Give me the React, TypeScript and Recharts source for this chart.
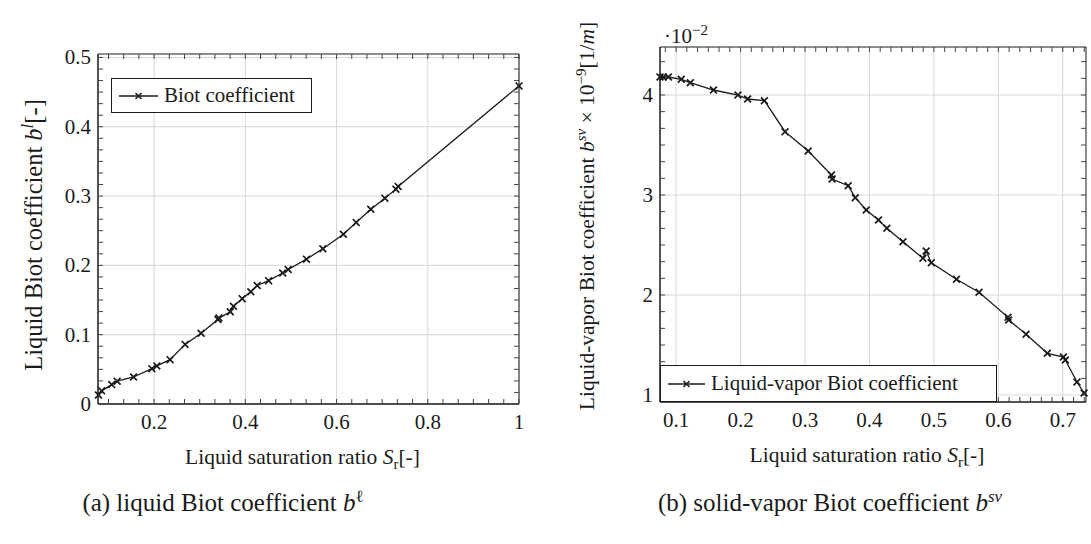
import React from "react";
import { LineChart, Line, XAxis, YAxis, CartesianGrid, Legend } from "recharts";

const FONT = '"Liberation Serif", "Times New Roman", serif';
const INK = "#1a1a1a";
const GRID = "#d6d6d6";
const TICK = "#444";

// (a) liquid Biot coefficient
const satA = [0.078, 0.085, 0.107, 0.119, 0.155, 0.195, 0.206, 0.235, 0.268, 0.303, 0.34, 0.342, 0.367, 0.374, 0.393, 0.412, 0.426, 0.451, 0.482, 0.494, 0.534, 0.57, 0.615, 0.643, 0.675, 0.706, 0.73, 0.735, 1.0];
const biotA = [0.013, 0.019, 0.028, 0.033, 0.039, 0.051, 0.055, 0.064, 0.086, 0.102, 0.122, 0.124, 0.133, 0.141, 0.152, 0.162, 0.171, 0.178, 0.189, 0.194, 0.209, 0.224, 0.245, 0.262, 0.281, 0.297, 0.31, 0.314, 0.459];
const xMajorA = [0.2, 0.4, 0.6, 0.8, 1];
const xLabelsA = ["0.2", "0.4", "0.6", "0.8", "1"];
const yMajorA = [0, 0.1, 0.2, 0.3, 0.4, 0.5];
const yLabelsA = ["0", "0.1", "0.2", "0.3", "0.4", "0.5"];
const xDomainA: [number, number] = [0.077, 1];
const yDomainA: [number, number] = [0, 0.505];

// (b) liquid-vapor Biot coefficient, in units of 1e-2
const satB = [0.075, 0.08, 0.088, 0.108, 0.122, 0.158, 0.196, 0.211, 0.237, 0.269, 0.305, 0.341, 0.342, 0.367, 0.378, 0.395, 0.414, 0.427, 0.452, 0.483, 0.488, 0.496, 0.535, 0.57, 0.615, 0.616, 0.643, 0.676, 0.701, 0.704, 0.722, 0.733];
const biotB = [4.18, 4.18, 4.18, 4.157, 4.123, 4.05, 4.0, 3.96, 3.943, 3.633, 3.44, 3.2, 3.16, 3.093, 2.973, 2.85, 2.75, 2.667, 2.533, 2.367, 2.44, 2.323, 2.157, 2.027, 1.777, 1.75, 1.607, 1.417, 1.38, 1.35, 1.13, 1.02];
const xMajorB = [0.1, 0.2, 0.3, 0.4, 0.5, 0.6, 0.7];
const xLabelsB = ["0.1", "0.2", "0.3", "0.4", "0.5", "0.6", "0.7"];
const yMajorB = [1, 2, 3, 4];
const yLabelsB = ["1", "2", "3", "4"];
const xDomainB: [number, number] = [0.075, 0.736];
const yDomainB: [number, number] = [0.93, 4.48];

// 5 minor ticks between majors, like pgfplots here
function withMinor(major: number[], domain: [number, number]) {
  const step = (major[1] - major[0]) / 6;
  const first = Math.ceil((domain[0] - major[0]) / step - 1e-6);
  const last = Math.floor((domain[1] - major[0]) / step + 1e-6);
  const out: number[] = [];
  for (let i = first; i <= last; i++) out.push(+(major[0] + i * step).toFixed(6));
  return out;
}

type Dir = "up" | "down" | "left" | "right";

// short inward tick mark at a point on the frame
const tickMark = (dir: Dir) => (props: any) => {
  const { cx, cy, index } = props;
  if (cx == null || cy == null || Number.isNaN(cy)) return <g key={index} />;
  const len = 5;
  const d =
    dir === "up" ? `M${cx},${cy}V${cy - len}` :
    dir === "down" ? `M${cx},${cy}V${cy + len}` :
    dir === "right" ? `M${cx},${cy}H${cx + len}` :
    `M${cx},${cy}H${cx - len}`;
  return <path key={index} d={d} stroke={TICK} strokeWidth={1} fill="none" />;
};

function makeLabel(side: "bottom" | "left", labels: Record<string, string>) {
  return (props: any) => {
    const { x, y, payload } = props;
    const lab = labels[String(payload.value)] ?? "";
    if (side === "bottom")
      return (
        <text x={x} y={y + 25} textAnchor="middle" fontSize={21} fontFamily={FONT} fill={INK}>
          {lab}
        </text>
      );
    return (
      <text x={x - 7} y={y + 7} textAnchor="end" fontSize={21} fontFamily={FONT} fill={INK}>
        {lab}
      </text>
    );
  };
}

const cross = (p: any) => {
  const { cx, cy, index } = p;
  if (cx == null || cy == null || Number.isNaN(cy)) return <g key={index} />;
  const r = 3.4;
  return (
    <path
      key={index}
      d={`M${cx - r},${cy - r}L${cx + r},${cy + r}M${cx - r},${cy + r}L${cx + r},${cy - r}`}
      stroke={INK}
      strokeWidth={1.7}
      fill="none"
    />
  );
};

function LegendBox({ text, width, height, lineW }: { text: string; width: number; height: number; lineW: number }) {
  return (
    <div
      style={{
        width,
        height,
        boxSizing: "border-box",
        border: `1px solid ${INK}`,
        background: "#fff",
        display: "flex",
        alignItems: "center",
        paddingLeft: 7,
        fontFamily: FONT,
        fontSize: 21,
        color: INK,
        whiteSpace: "nowrap",
      }}
    >
      <svg width={lineW} height={12} style={{ marginRight: 6 }}>
        <line x1={0} x2={lineW} y1={6} y2={6} stroke={INK} strokeWidth={1.3} />
        <path d={`M${lineW / 2 - 3},3L${lineW / 2 + 3},9M${lineW / 2 - 3},9L${lineW / 2 + 3},3`} stroke={INK} strokeWidth={1.5} />
      </svg>
      {text}
    </div>
  );
}

type PanelProps = {
  sat: number[];
  biot: number[];
  xMajor: number[];
  xLabels: string[];
  yMajor: number[];
  yLabels: string[];
  xDomain: [number, number];
  yDomain: [number, number];
  width: number;
  height: number;
  margin: { top: number; right: number; left: number; bottom: number };
  yAxisWidth: number;
  xAxisHeight: number;
  yTitle: (vb: any) => React.ReactNode;
  legend: { text: string; left: number; top: number; width: number; height: number; lineW: number };
};

function Panel(p: PanelProps) {
  const xTicks = withMinor(p.xMajor, p.xDomain);
  const yTicks = withMinor(p.yMajor, p.yDomain);
  const [x0, x1] = p.xDomain;
  const [y0, y1] = p.yDomain;
  // one table: the series first, then frame corners and tick anchors under their own keys
  const data: Record<string, number>[] = [
    ...p.sat.map((s, i) => ({ s, b: p.biot[i] })),
    { s: x0, fr: y0 },
    { s: x0, fr: y1 },
    { s: x1, fr: y1 },
    { s: x1, fr: y0 },
    { s: x0, fr: y0 },
    ...xTicks.map((v) => ({ s: v, tb: y0 })),
    ...xTicks.map((v) => ({ s: v, tt: y1 })),
    ...yTicks.map((v) => ({ s: x0, tl: v })),
    ...yTicks.map((v) => ({ s: x1, tr: v })),
  ];
  const xLab: Record<string, string> = {};
  p.xMajor.forEach((v, i) => (xLab[String(v)] = p.xLabels[i]));
  const yLab: Record<string, string> = {};
  p.yMajor.forEach((v, i) => (yLab[String(v)] = p.yLabels[i]));
  const hidden = { stroke: "none", activeDot: false, legendType: "none" as const, isAnimationActive: false, connectNulls: false };
  return (
    <LineChart width={p.width} height={p.height} data={data} margin={p.margin}>
      <CartesianGrid stroke={GRID} strokeWidth={1} horizontalValues={p.yMajor} verticalValues={p.xMajor} />
      <XAxis
        type="number"
        dataKey="s"
        domain={p.xDomain}
        ticks={p.xMajor}
        interval={0}
        tickSize={0}
        tickMargin={0}
        tickLine={false}
        axisLine={{ stroke: INK }}
        height={p.xAxisHeight}
        tick={makeLabel("bottom", xLab)}
        label={{
          content: (lp: any) => {
            const vb = lp.viewBox;
            return (
              <text x={vb.x + vb.width / 2 - 6} y={vb.y + 60} textAnchor="middle" fontSize={21.5} fontFamily={FONT} fill={INK}>
                Liquid saturation ratio <tspan fontStyle="italic">S</tspan>
                <tspan fontSize={15} dy={5}>r</tspan>
                <tspan dy={-5}>[-]</tspan>
              </text>
            );
          },
        }}
      />
      <YAxis
        type="number"
        domain={p.yDomain}
        ticks={p.yMajor}
        interval={0}
        tickSize={0}
        tickMargin={0}
        tickLine={false}
        axisLine={{ stroke: INK }}
        width={p.yAxisWidth}
        tick={makeLabel("left", yLab)}
        label={{ content: (lp: any) => p.yTitle(lp.viewBox) }}
      />
      <Line dataKey="fr" stroke={INK} strokeWidth={1} dot={false} activeDot={false} legendType="none" isAnimationActive={false} connectNulls />
      <Line dataKey="tb" {...hidden} dot={tickMark("up")} />
      <Line dataKey="tt" {...hidden} dot={tickMark("down")} />
      <Line dataKey="tl" {...hidden} dot={tickMark("right")} />
      <Line dataKey="tr" {...hidden} dot={tickMark("left")} />
      <Legend
        verticalAlign="middle"
        align="center"
        layout="horizontal"
        wrapperStyle={{ left: p.legend.left, top: p.legend.top, width: p.legend.width, height: p.legend.height }}
        content={() => <LegendBox text={p.legend.text} width={p.legend.width} height={p.legend.height} lineW={p.legend.lineW} />}
      />
      <Line
        dataKey="b"
        stroke={INK}
        strokeWidth={1.3}
        dot={cross}
        activeDot={false}
        connectNulls
        isAnimationActive={false}
      />
    </LineChart>
  );
}

const yTitleA = (vb: any) => {
  const bx = 42;
  const cy = vb.y + vb.height / 2 + 6;
  return (
    <text x={bx} y={cy} transform={`rotate(-90 ${bx} ${cy})`} textAnchor="middle" fontSize={24.5} fontFamily={FONT} fill={INK}>
      Liquid Biot coefficient <tspan fontStyle="italic">b</tspan>
      <tspan fontSize={17} fontStyle="italic" dy={-9}>l</tspan>
      <tspan dy={9}>[-]</tspan>
    </text>
  );
};

const yTitleB = (vb: any) => {
  const bx = 54;
  const cy = 216;
  return (
    <text x={bx} y={cy} transform={`rotate(-90 ${bx} ${cy})`} textAnchor="middle" fontSize={21.5} fontFamily={FONT} fill={INK}>
      Liquid-vapor Biot coefficient <tspan fontStyle="italic">b</tspan>
      <tspan fontSize={15} fontStyle="italic" dy={-8}>sv</tspan>
      <tspan dy={8}> × 10</tspan>
      <tspan fontSize={15} dy={-8}>−9</tspan>
      <tspan dy={8}>[1/</tspan>
      <tspan fontStyle="italic">m</tspan>]
    </text>
  );
};

export default function App() {
  return (
    <div style={{ position: "relative", width: 1091, height: 544, background: "#fff", fontFamily: FONT, color: INK }}>
      <style>{"body{margin:0;background:#fff}"}</style>
      <div style={{ position: "absolute", left: 0, top: 0 }}>
        <Panel
          sat={satA}
          biot={biotA}
          xMajor={xMajorA}
          xLabels={xLabelsA}
          yMajor={yMajorA}
          yLabels={yLabelsA}
          xDomain={xDomainA}
          yDomain={yDomainA}
          width={540}
          height={480}
          margin={{ top: 54, right: 21, left: 0, bottom: 0 }}
          yAxisWidth={98}
          xAxisHeight={76}
          yTitle={yTitleA}
          legend={{ text: "Biot coefficient", left: 111, top: 78, width: 201, height: 35, lineW: 39 }}
        />
      </div>
      <div style={{ position: "absolute", left: 540, top: 0 }}>
        <Panel
          sat={satB}
          biot={biotB}
          xMajor={xMajorB}
          xLabels={xLabelsB}
          yMajor={yMajorB}
          yLabels={yLabelsB}
          xDomain={xDomainB}
          yDomain={yDomainB}
          width={551}
          height={480}
          margin={{ top: 47, right: 5, left: 0, bottom: 0 }}
          yAxisWidth={120}
          xAxisHeight={78}
          yTitle={yTitleB}
          legend={{ text: "Liquid-vapor Biot coefficient", left: 120, top: 365, width: 337, height: 37, lineW: 37 }}
        />
      </div>
      <div style={{ position: "absolute", left: 664, top: 18, fontSize: 21, lineHeight: "24px" }}>
        ·10<sup style={{ fontSize: 15 }}>−2</sup>
      </div>
      <div style={{ position: "absolute", left: 0, width: 446, top: 482, textAlign: "center", fontSize: 25, lineHeight: "30px" }}>
        (a) liquid Biot coefficient <i>b</i>
        <sup style={{ fontSize: 17 }}>ℓ</sup>
      </div>
      <div style={{ position: "absolute", left: 560, width: 540, top: 482, textAlign: "center", fontSize: 25, lineHeight: "30px" }}>
        (b) solid-vapor Biot coefficient <i>b</i>
        <sup style={{ fontSize: 17 }}>
          <i>sv</i>
        </sup>
      </div>
    </div>
  );
}
